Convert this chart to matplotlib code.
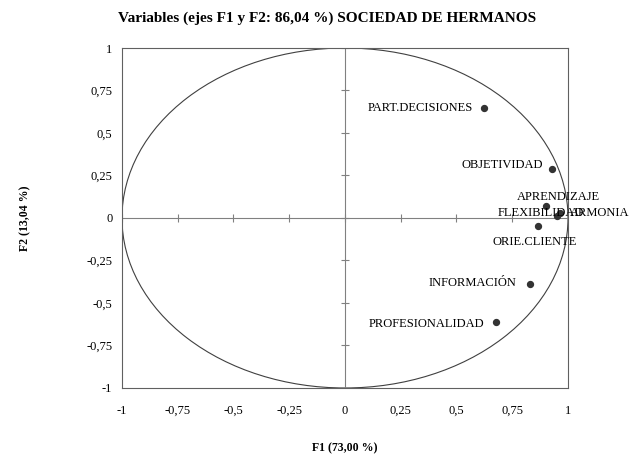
import numpy as np
import matplotlib
matplotlib.use("Agg")
import matplotlib.pyplot as plt
from matplotlib.patches import Circle

plt.rcParams['font.family'] = ['Liberation Serif', 'DejaVu Serif']

# variable coordinates on F1 / F2
variables = ["PART.DECISIONES", "OBJETIVIDAD", "APRENDIZAJE", "FLEXIBILIDAD",
             "ARMONIA", "ORIE.CLIENTE", "INFORMACIÓN", "PROFESIONALIDAD"]
f1 = [0.625, 0.930, 0.901, 0.952, 0.964, 0.864, 0.830, 0.676]
f2 = [0.649, 0.290, 0.072, 0.012, 0.028, -0.045, -0.388, -0.614]

ticks = [-1, -0.75, -0.5, -0.25, 0, 0.25, 0.5, 0.75, 1]
tick_labels = ["-1", "-0,75", "-0,5", "-0,25", "0", "0,25", "0,5", "0,75", "1"]

# label placement: (dx, dy in points, ha, va)
label_pos = {
    "PART.DECISIONES": (-8, 0, "right", "center"),
    "OBJETIVIDAD": (-7, 3, "right", "center"),
    "APRENDIZAJE": (9, 6, "center", "center"),
    "FLEXIBILIDAD": (19, 2, "right", "center"),
    "ARMONIA": (7, 0, "left", "center"),
    "ORIE.CLIENTE": (-2, -12, "center", "center"),
    "INFORMACIÓN": (-10, 1, "right", "center"),
    "PROFESIONALIDAD": (-8, -1, "right", "center"),
}

fig = plt.figure(figsize=(6.4, 4.55), dpi=100)
ax = fig.add_axes([0.1906, 0.1473, 0.6969, 0.7472])

ax.set_xlim(-1, 1)
ax.set_ylim(-1, 1)

ax.add_patch(Circle((0, 0), 1, fill=False, edgecolor="#404040", linewidth=0.8))

ax.axhline(0, color="#808080", linewidth=0.8)
ax.axvline(0, color="#808080", linewidth=0.8)
tk = np.array(ticks)
ax.plot(tk, np.zeros_like(tk), linestyle="none", marker="|", markersize=6,
        color="#808080", markeredgewidth=0.8)
ax.plot(np.zeros_like(tk), tk, linestyle="none", marker="_", markersize=6,
        color="#808080", markeredgewidth=0.8)

ax.scatter(f1, f2, s=18, color="#333333", zorder=3)
for name, x, y in zip(variables, f1, f2):
    dx, dy, ha, va = label_pos[name]
    ax.annotate(name, (x, y), xytext=(dx, dy), textcoords="offset points",
                ha=ha, va=va, fontsize=9)

ax.set_xticks(ticks)
ax.set_xticklabels(tick_labels)
ax.set_yticks(ticks)
ax.set_yticklabels(tick_labels)
ax.tick_params(axis="x", length=0, labelsize=9, pad=12)
ax.tick_params(axis="y", length=0, labelsize=9, pad=7)
for s in ax.spines.values():
    s.set_color("#606060")
    s.set_linewidth(0.8)

fig.suptitle("Variables (ejes F1 y F2: 86,04 %) SOCIEDAD DE HERMANOS",
             x=0.511, y=0.96, va="center", fontsize=11, fontweight="bold")
ax.set_xlabel("F1 (73,00 %)", fontsize=8.5, fontweight="bold", va="center")
ax.xaxis.set_label_coords(0.5, -0.1765)
ax.set_ylabel("F2 (13,04 %)", fontsize=8.5, fontweight="bold", va="center")
ax.yaxis.set_label_coords(-0.2175, 0.5)

fig.savefig("out.png", dpi=100)
